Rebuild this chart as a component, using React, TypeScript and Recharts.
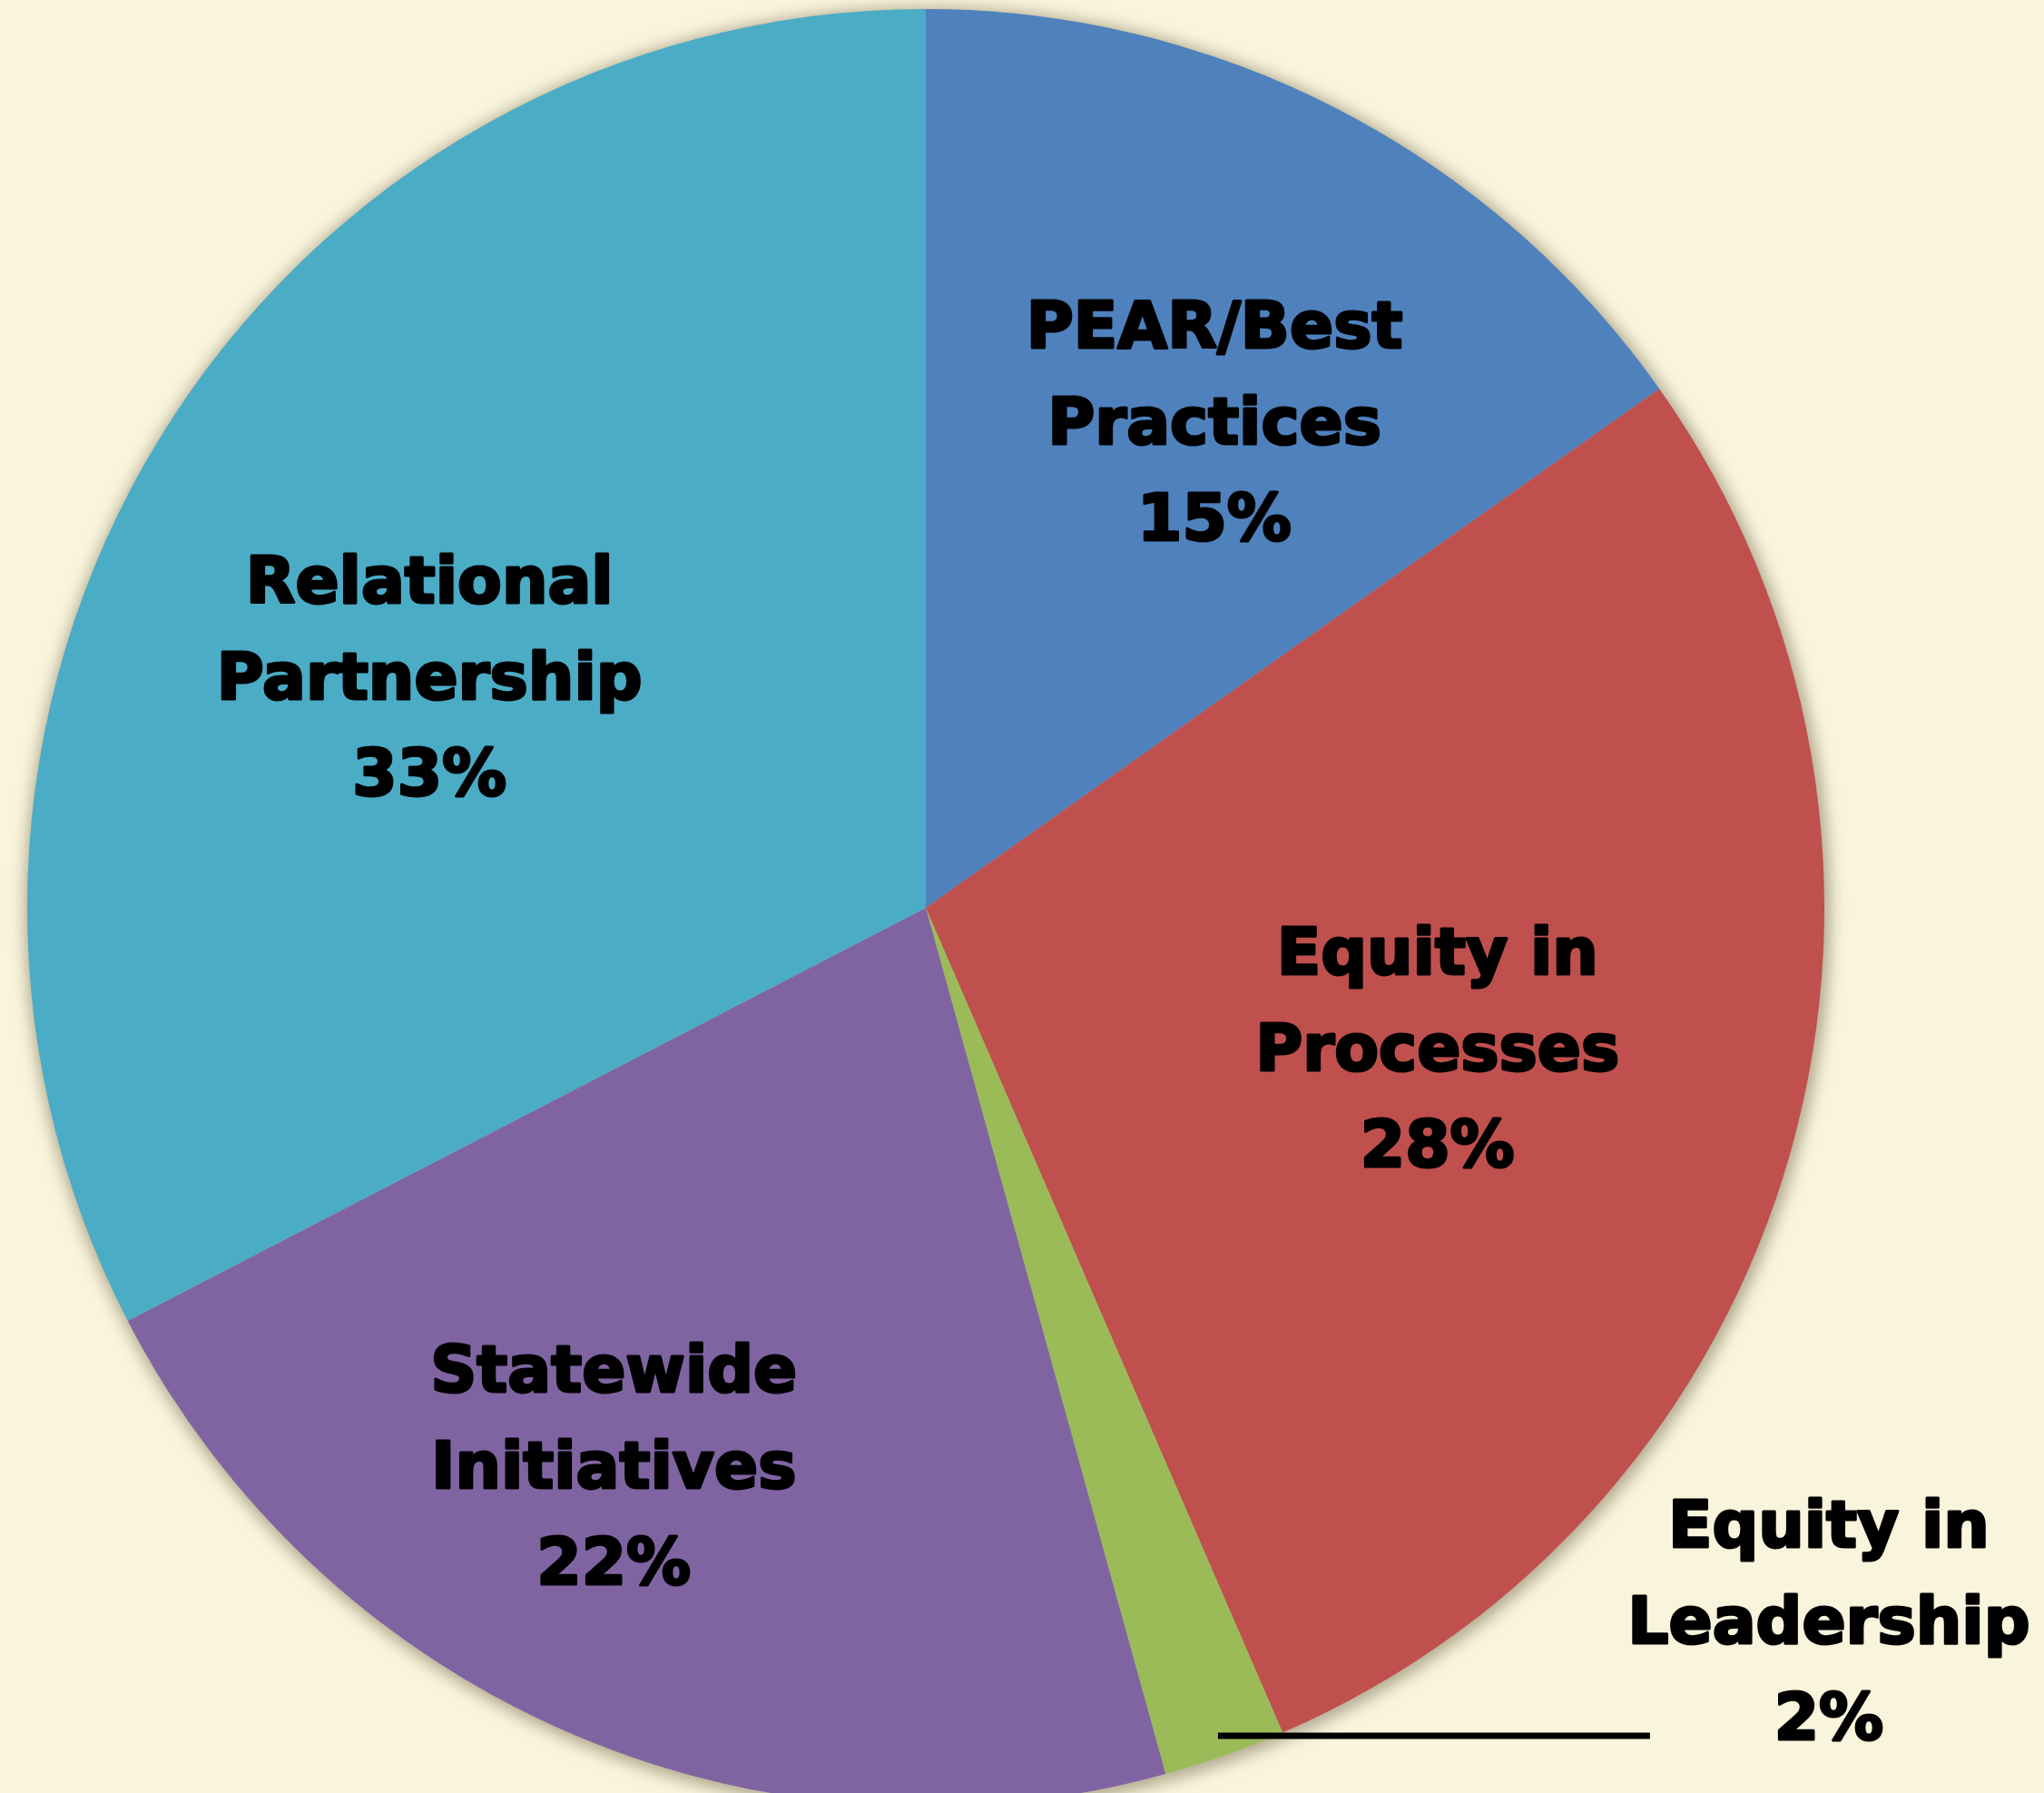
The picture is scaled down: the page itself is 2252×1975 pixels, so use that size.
import { PieChart, Pie, Cell } from 'recharts';

const categories = [
  'PEAR/Best Practices',
  'Equity in Processes',
  'Equity in Leadership',
  'Statewide Initiatives',
  'Relational Partnership',
];
const shares = [15.2, 28.3, 2.2, 21.7, 32.6];
const colors = ['#4F81BD', '#C0504D', '#9BBB59', '#8064A2', '#4BACC6'];

// label placement: fraction of radius + clockwise angle shift (deg)
const labelRadius = [0.63, 0.59, 0.977, 0.71, 0.61];
const labelShift = [3.3, -0.5, 0, 5.7, -6.2];

const data = categories.map((name, i) => ({ name, value: shares[i] }));

const W = 2252;
const H = 1975;
const CX = 1020;
const CY = 1000;
const R = 990;
const FONT = 71;
const LINE = 106;

const splitName = (name: string) => {
  const k = name.lastIndexOf(' ');
  return [name.slice(0, k), name.slice(k + 1)];
};

const textStyle = {
  fontFamily: '"DejaVu Sans", sans-serif',
  fontWeight: 700,
  fontSize: FONT,
  fill: '#000',
  stroke: '#000',
  strokeWidth: 3,
  strokeLinejoin: 'round' as const,
};

function Block({ x, y, lines }: { x: number; y: number; lines: string[] }) {
  return (
    <text textAnchor="middle" style={textStyle}>
      {lines.map((t, i) => (
        <tspan key={i} x={x} y={y + (i - 1) * LINE + 26}>
          {t}
        </tspan>
      ))}
    </text>
  );
}

const renderLabel = (props: any) => {
  const { cx, cy, midAngle, outerRadius, percent, index, name } = props;
  const theta = ((90 - midAngle + labelShift[index]) * Math.PI) / 180;
  const r = outerRadius * labelRadius[index];
  const x = cx + r * Math.sin(theta);
  const y = cy - r * Math.cos(theta);
  const lines = [...splitName(name), `${Math.round(percent * 100)}%`];
  if (index === 2) {
    const x1 = x + 476;
    return (
      <g key={`lbl-${index}`}>
        <line x1={x} y1={y} x2={x1} y2={y} stroke="#000" strokeWidth={7} />
        <Block x={x1 + 197} y={y - 128} lines={lines} />
      </g>
    );
  }
  return (
    <g key={`lbl-${index}`}>
      <Block x={x} y={y} lines={lines} />
    </g>
  );
};

export default function App() {
  return (
    <div style={{ position: 'absolute', left: 0, top: 0, width: W, height: H, background: '#F9F4DC' }}>
      <style>{`.pie-shadow { filter: blur(6px); }`}</style>
      <PieChart width={W} height={H} margin={{ top: 0, right: 0, bottom: 0, left: 0 }}>
        <Pie
          className="pie-shadow"
          data={data}
          dataKey="value"
          cx={CX + 2}
          cy={CY + 3}
          outerRadius={R + 5}
          startAngle={90}
          endAngle={-270}
          stroke="none"
          isAnimationActive={false}
        >
          {data.map((d, i) => (
            <Cell key={i} fill="#5a5236" fillOpacity={0.45} />
          ))}
        </Pie>
        <Pie
          data={data}
          dataKey="value"
          cx={CX}
          cy={CY}
          outerRadius={R}
          startAngle={90}
          endAngle={-270}
          stroke="none"
          label={renderLabel}
          labelLine={false}
          isAnimationActive={false}
        >
          {data.map((d, i) => (
            <Cell key={i} fill={colors[i]} />
          ))}
        </Pie>
      </PieChart>
    </div>
  );
}
